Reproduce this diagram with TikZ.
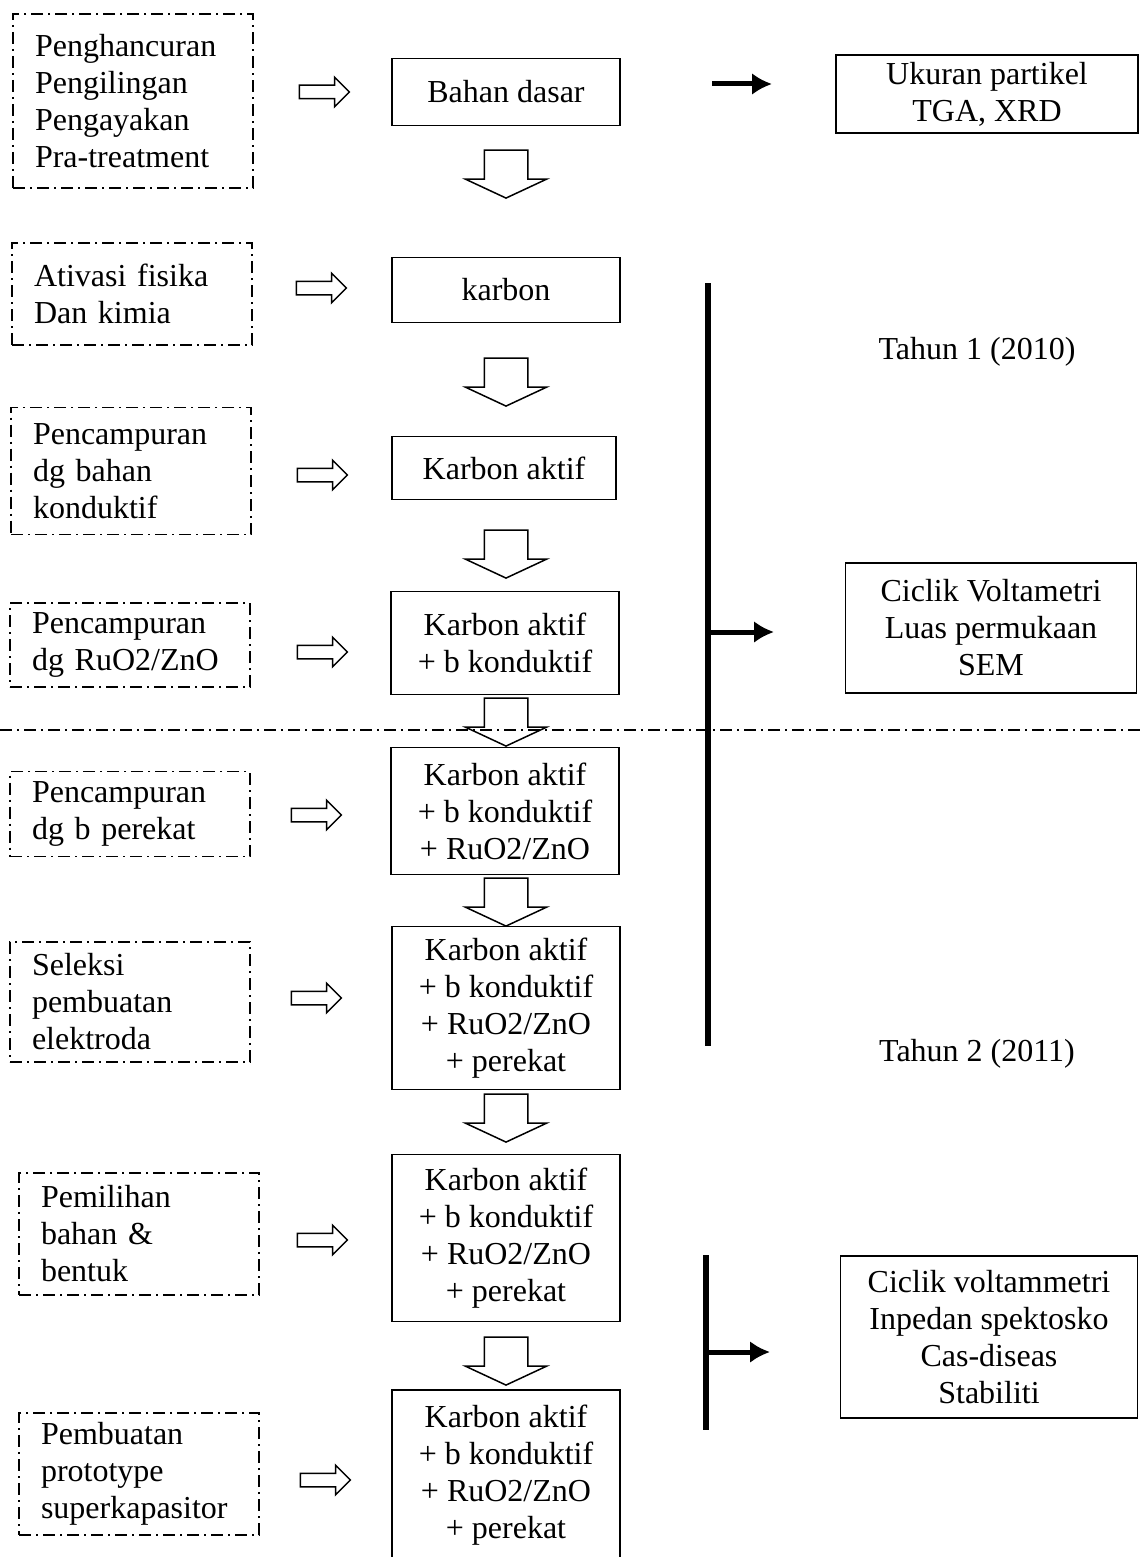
\documentclass[tikz,border=0pt]{standalone}
\usepackage{fontspec}
\setmainfont{Liberation Serif}
\usetikzlibrary{arrows.meta,positioning,shapes.arrows}

\begin{document}
\begin{tikzpicture}[x=1pt,y=-1pt,
  every node/.style={font=\fontsize{32}{37}\selectfont},
  lbox/.style={draw,line width=1.6pt,dash pattern=on 12pt off 5pt on 2pt off 5pt,
    align=left,text width=196pt,inner xsep=22pt,inner ysep=0pt},
  cbox/.style={draw,line width=1.8pt,align=center,minimum width=228pt,inner sep=0pt},
  rbox/.style={draw,line width=1.8pt,align=center,inner sep=0pt},
  harr/.style={draw,line width=1.5pt,single arrow,inner xsep=0pt,inner ysep=6pt,
    minimum height=50pt,single arrow head extend=8pt},
  varr/.style={draw,line width=1.5pt,fill=white,single arrow,rotate=-90,inner xsep=0pt,
    inner ysep=21pt,minimum height=48pt,single arrow head extend=19pt,
    single arrow tip angle=130},
  arr/.style={-{Latex[length=20pt,width=22pt]},line width=5pt}]
\useasboundingbox (0,0) rectangle (1144,1557);
% left column
\node[lbox,minimum height=174pt] (l1) at (133,101) {Penghancuran\\Pengilingan\\Pengayakan\\Pra-treatment};
\node[lbox,minimum height=102pt] (l2) at (132,294) {Ativasi fisika\\Dan kimia};
\node[lbox,minimum height=127pt] (l3) at (131,471) {Pencampuran\\dg bahan\\konduktif};
\node[lbox,minimum height=84pt] (l4) at (130,645) {Pencampuran\\dg RuO2/ZnO};
\node[lbox,minimum height=85pt] (l5) at (130,814) {Pencampuran\\dg b perekat};
\node[lbox,minimum height=120pt] (l6) at (130,1002) {Seleksi\\pembuatan\\elektroda};
\node[lbox,minimum height=122pt] (l7) at (139,1234) {Pemilihan\\bahan \&\\bentuk};
\node[lbox,minimum height=122pt] (l8) at (139,1474) {Pembuatan\\prototype\\superkapasitor};
% centre column
\node[cbox,minimum height=67pt] (c1) at (506,92) {Bahan dasar};
\node[cbox,minimum height=65pt] (c2) at (506,290) {karbon};
\node[cbox,minimum height=63pt,minimum width=224pt] (c3) at (504,468) {Karbon aktif};
\node[cbox,minimum height=103pt] (c4) at (505,643) {Karbon aktif\\+ b konduktif};
\node[cbox,minimum height=127pt] (c5) at (505,811) {Karbon aktif\\+ b konduktif\\+ RuO2/ZnO};
\node[cbox,minimum height=163pt] (c6) at (506,1008) {Karbon aktif\\+ b konduktif\\+ RuO2/ZnO\\+ perekat};
\node[cbox,minimum height=167pt] (c7) at (506,1238) {Karbon aktif\\+ b konduktif\\+ RuO2/ZnO\\+ perekat};
\node[cbox,minimum height=170pt] (c8) at (506,1475) {Karbon aktif\\+ b konduktif\\+ RuO2/ZnO\\+ perekat};
% hollow arrows
\foreach \x/\y/\n in {321/92/1,318/288/2,319/475/3,319/652/4,313/815/5,313/998/6,319/1240/7,322/1480/8}
  \node[harr] (h\n) at (\x,\y) {};
\foreach \y/\n in {169/1,377/2,549/3,717/4,897/5,1113/6,1356/7}
  \node[varr] (v\n) at (506,\y) {};
% year separator
\draw[line width=1.6pt,dash pattern=on 12pt off 5pt on 2pt off 5pt] (0,730) -- (1144,730);
% right column
\node[rbox,minimum width=302pt,minimum height=78pt] (r1) at (987,94) {Ukuran partikel\\TGA, XRD};
\node[rbox,minimum width=291pt,minimum height=130pt] (r2) at (991,628) {Ciclik Voltametri\\Luas permukaan\\SEM};
\node[rbox,minimum width=297pt,minimum height=162pt] (r3) at (989,1337) {Ciclik voltammetri\\Inpedan spektosko\\Cas-diseas\\Stabiliti};
\node (t1) at (977,352) {Tahun 1 (2010)};
\node (t2) at (977,1054) {Tahun 2 (2011)};
% bars and black arrows
\coordinate (a1s) at (712,84); \coordinate (a1e) at (772,84);
\coordinate (b1t) at (708,283); \coordinate (b1b) at (708,1046);
\coordinate (a2s) at (708,632); \coordinate (a2e) at (774,632);
\coordinate (b2t) at (706,1255); \coordinate (b2b) at (706,1430);
\coordinate (a3s) at (706,1352); \coordinate (a3e) at (770,1352);
\draw[arr] (a1s) -- (a1e);
\draw[line width=6pt] (b1t) -- (b1b);
\draw[arr] (a2s) -- (a2e);
\draw[line width=6pt] (b2t) -- (b2b);
\draw[arr] (a3s) -- (a3e);
\end{tikzpicture}
\end{document}
